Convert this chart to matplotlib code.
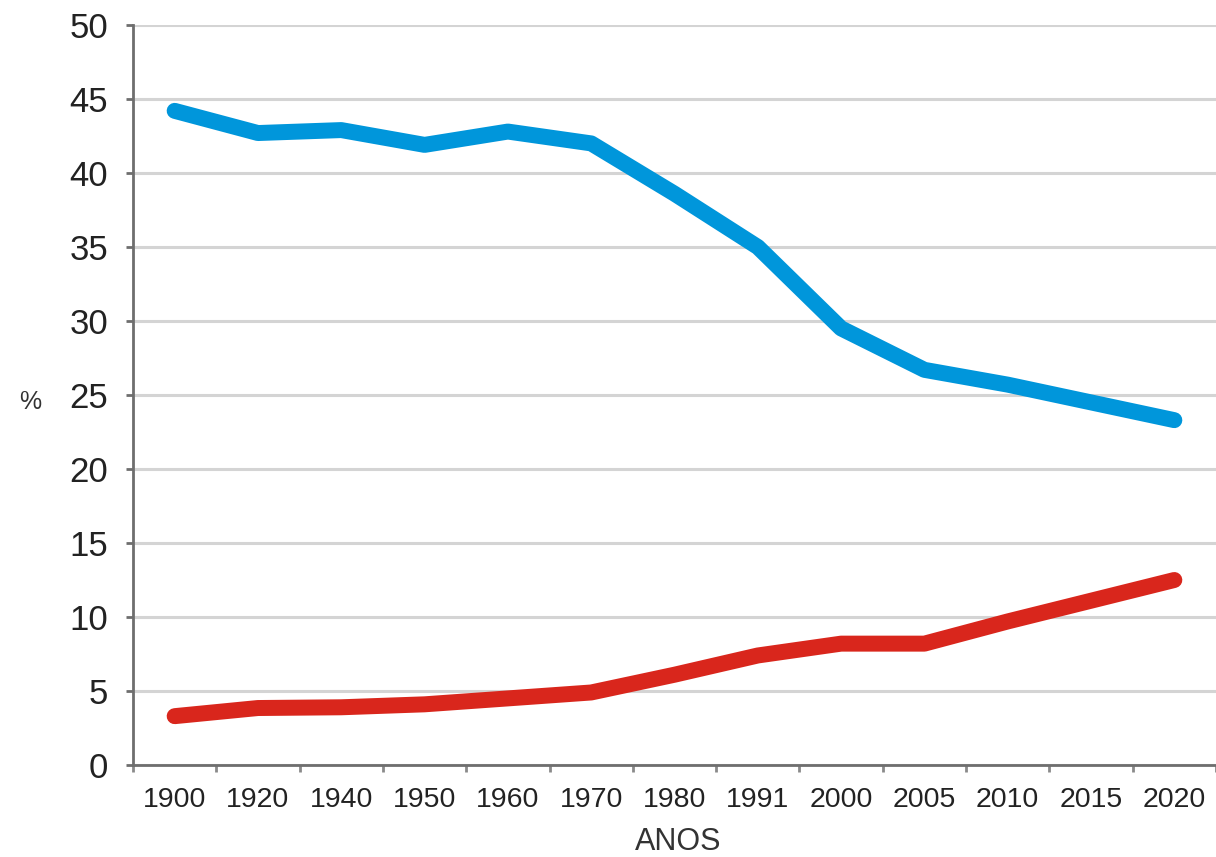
import matplotlib
matplotlib.use("Agg")
import matplotlib.pyplot as plt
from matplotlib import font_manager
import numpy as np

years = ["1900", "1920", "1940", "1950", "1960", "1970", "1980", "1991",
         "2000", "2005", "2010", "2015", "2020"]
young = [44.2, 42.7, 42.9, 41.9, 42.8, 42.0, 38.6, 35.0, 29.5, 26.7, 25.7, 24.5, 23.3]
old = [3.3, 3.85, 3.9, 4.1, 4.5, 4.9, 6.1, 7.4, 8.2, 8.2, 9.7, 11.1, 12.5]
yticks = [0, 5, 10, 15, 20, 25, 30, 35, 40, 45, 50]

names = {f.name for f in font_manager.fontManager.ttflist}
narrow = "Liberation Sans Narrow" if "Liberation Sans Narrow" in names else "Liberation Sans"
narrow_size_x = 24 if narrow == "Liberation Sans Narrow" else 20.5
narrow_size_y = 28 if narrow == "Liberation Sans Narrow" else 25

fig = plt.figure(figsize=(12.16, 8.57), dpi=100)
ax = fig.add_axes([133/1216, 92/857, 1083/1216, 740/857])

x = np.arange(len(years))
ax.plot(x, young, color="#0096DB", lw=11.5, solid_capstyle="round", solid_joinstyle="round", zorder=3)
ax.plot(x, old, color="#D9261C", lw=11.5, solid_capstyle="round", solid_joinstyle="round", zorder=3)

ax.set_xlim(-0.5, len(years) - 0.5)
ax.set_ylim(0, 50)
ax.set_yticks(yticks)
ax.set_yticklabels([str(v) for v in yticks], family=narrow, fontsize=narrow_size_y, color="#222222")
ax.set_xticks(x)
ax.set_xticklabels(years, family=narrow, fontsize=narrow_size_x, color="#222222")
ax.set_xticks(np.arange(-0.5, len(years) + 0.5, 1), minor=True)

ax.grid(axis="y", color="#d4d4d4", lw=2.2, zorder=1)
ax.set_axisbelow(True)
for s in ["top", "right"]:
    ax.spines[s].set_visible(False)
for s in ["left", "bottom"]:
    ax.spines[s].set_color("#6e6e6e")
    ax.spines[s].set_linewidth(2)

ax.tick_params(axis="y", which="major", length=5, width=2, color="#6e6e6e", pad=13)
ax.tick_params(axis="x", which="major", length=0, pad=16)
ax.tick_params(axis="x", which="minor", length=5, width=2, color="#8a8a8a")

fig.text(30/1216, 1 - 402/857, "%", ha="center", va="center", family="Liberation Sans",
         fontsize=18, color="#333333")
fig.text(678/1216, 1 - 842/857, "ANOS", ha="center", va="center", family=narrow,
         fontsize=22, color="#333333")

fig.savefig("out.png", dpi=100, facecolor="white")
